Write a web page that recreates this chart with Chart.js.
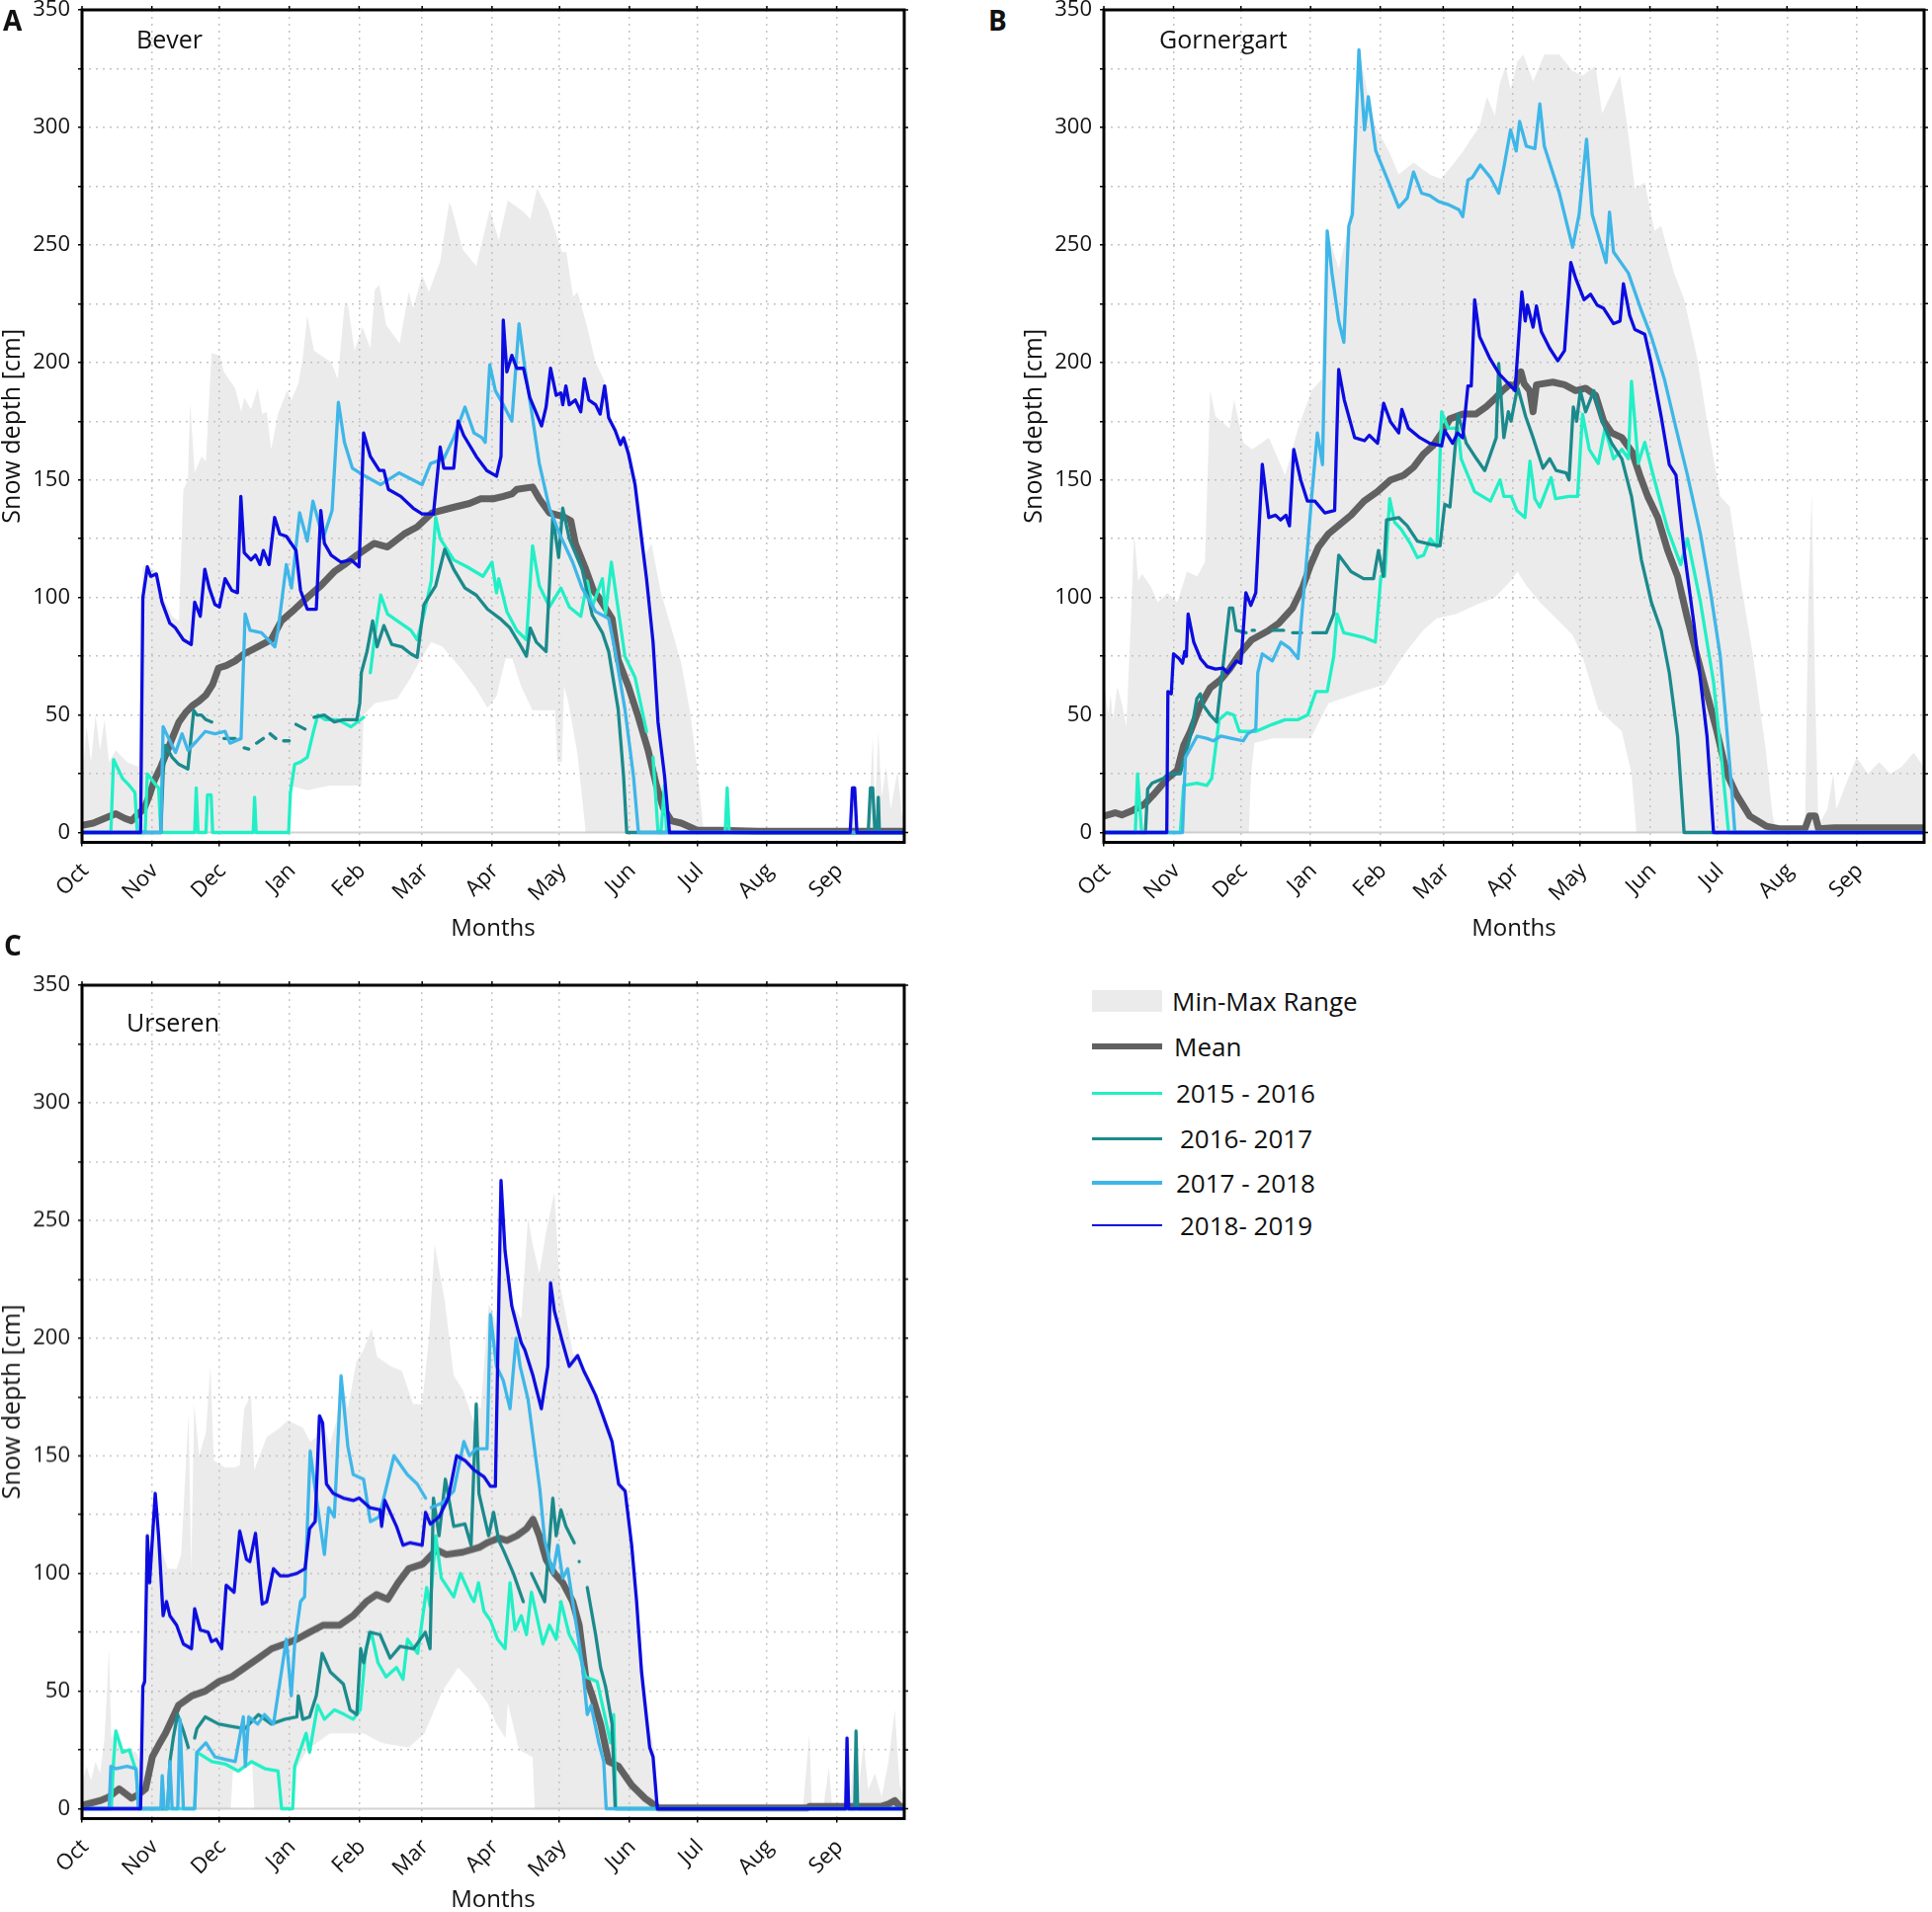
<!DOCTYPE html>
<html>
<head>
<meta charset="utf-8">
<script src="https://cdn.jsdelivr.net/npm/chart.js@4.4.1/dist/chart.umd.min.js"></script>
<style>
  body { margin: 0; width: 1955px; height: 1935px; position: relative; overflow: hidden; background: #fff; font-family: "Open Sans", sans-serif; color: #111; }
  .panel { position: absolute; width: 930px; height: 980.5px; }
  .letter { position: absolute; font-weight: bold; font-size: 28px; line-height: 1; }
  .station { position: absolute; font-size: 25px; line-height: 1; }
  .row { position: absolute; left: 1105px; height: 30px; display: flex; align-items: center; font-size: 26px; white-space: pre; }
  .swatch { width: 71px; }
</style>
</head>
<body>
<div class="panel" style="left:0;top:-20.5px"><canvas id="bever"></canvas></div>
<div class="panel" style="left:1034px;top:-20.5px;width:921px"><canvas id="gorner"></canvas></div>
<div class="panel" style="left:0;top:967px"><canvas id="urseren"></canvas></div>

<div class="letter" style="left:3px;top:6px">A</div>
<div class="letter" style="left:1000px;top:6px">B</div>
<div class="letter" style="left:4px;top:942px">C</div>
<div class="station" style="left:138px;top:27px">Bever</div>
<div class="station" style="left:1173px;top:27px">Gornergart</div>
<div class="station" style="left:128px;top:1022px">Urseren</div>

<div id="legend"></div>

<script>
"use strict";

// x axis: days since 1 October
const monthNames = ["Oct", "Nov", "Dec", "Jan", "Feb", "Mar", "Apr", "May", "Jun", "Jul", "Aug", "Sep"];
const monthStarts = [0, 31, 61, 92, 123, 151, 182, 212, 243, 273, 304, 335];
const yTicks = [0, 25, 50, 75, 100, 125, 150, 175, 200, 225, 250, 275, 300, 325, 350];
const seriesLabels = ["Min-Max Range", "Mean", "2015 - 2016", "2016- 2017", "2017 - 2018", "2018- 2019"];

// ---- Bever [day, cm] ----
const beverMax = [[0,20],[2,45],[4,30],[6,50],[8,35],[10,48],[12,30],[15,35],[20,30],[25,28],[27,113],[29,114],[33,111],[36,100],[40,92],[43,90],[45,146],[47,150],[48,183],[50,153],[53,160],[55,158],[57.5,204],[61,203],[63,196],[68,189],[70.7,179],[72,185],[75,180],[78,189],[80,178],[82,179],[84,163],[87,178],[91,188],[93,184],[96,191],[98,202],[100,220],[103,205],[110.6,200],[113.5,193],[116.5,224],[118,225],[121,205],[124.5,215],[128,206],[130,231],[132,233],[135,216],[141,208],[145,230],[147,223],[151,237],[154,230],[159,243],[163,268],[164,266],[169,248],[175,241],[181,265],[185,252],[189,269],[196,264],[199,261],[202,274],[207,265],[213,247],[215,247],[218,228],[220,230],[224,216],[228,200],[232,192],[234,178],[238,168],[240.4,168],[242.6,165],[245,155],[248.4,135],[250,118],[252.8,123],[257,102],[261.6,87],[266,72],[270,51],[273,28],[276,0],[285,0],[286,19],[287,0],[341,0],[342,20],[343,20],[344,0],[349,0],[350,20],[351,41],[352,10],[353.5,43],[355,15],[357,28],[359,10],[362,26],[364,8],[365,5]];
const beverMin = [[0,0],[91,0],[92,20],[100,18],[110,20],[124,20],[125,50],[130,55],[140,57],[146,66],[150,73],[155,81],[160,79],[168,70],[175,61],[180,53],[184,58],[188,74],[191,74],[195,62],[200,52],[210,52],[211,30],[213,30],[214,62],[216,55],[220,33],[223.6,0],[365,0]];
const beverMean = [[0,3],[5,4],[10,6],[15,8],[19,6],[22,5],[25,8],[27.5,10],[30,16],[32,22],[35,28],[38,35],[40,40],[43,47],[46,51],[49,54],[52,56],[55,58.5],[58,63],[60.6,70],[64,71],[68,73],[72,76],[78,79],[84,82],[88.5,90],[94.4,95],[100,100],[106,105],[112,111],[116.5,114],[122,118],[129.7,123],[135.6,121.5],[143,127],[148.8,130],[155.4,136],[163.5,138],[172,140],[177,142],[182.6,142],[187,143],[190.8,144],[193,146],[200,147],[203,142],[207.5,136],[213.4,134.5],[217,132.6],[219,123],[223.6,112],[227,103],[229.4,100],[235.3,91],[238,73.5],[242.6,62],[247,49],[251.3,35],[255,20],[258,10.5],[261.6,5],[266,4],[273,1],[283,1],[300,0.5],[365,0.5]];
const bever1516 = [[0,0],[12.8,0],[14,31],[18,23],[21,20],[23.5,17],[24.5,0],[28,0],[29,25],[33,20],[34,19],[35,0],[50,0],[50.7,19],[51.5,0],[55,0],[55.7,16],[57.3,16],[58,0],[76,0],[76.6,15],[77.3,0],[91.7,0],[92.5,17],[94.4,29],[97,30],[100,32],[103,44],[104.7,50],[108,48],[113.5,48],[119.4,45],[125,49],[126,null],[128,68],[130,84],[132.6,101],[135.6,93],[140,90],[146,86],[148.8,82],[151.8,93],[155,107],[157,134],[159,125],[165,116],[171,113],[178,109],[182,115],[184,102],[185,108],[188.6,94],[193,86],[197.3,82],[200,122],[203,105],[207.5,96],[212.6,104],[216.3,96],[221.4,92],[224.3,107],[226.5,96],[231,108],[232.4,93],[235,115],[241,75],[245.5,66],[250.6,43],[251.5,null],[253.5,32],[255.7,0],[257,0],[258.6,20],[259.5,0],[285.5,0],[286.4,19],[287.3,0],[365,0]];
const bever1617 = [[0,0],[35,0],[36,25],[37,37],[40,32],[43,29],[47,27],[49.6,52],[51,50],[53,50],[55,48],[57.6,47],[58,null],[63,40],[66,40],[68,40],[70,null],[72,36],[74,35.5],[75,null],[77.5,38],[80.5,40],[81,null],[83.5,42],[86,40],[87,null],[89.5,39],[92,39],[93,null],[95,46],[99,44],[100,null],[103,49],[107.5,50],[112,47],[116,48],[122,48],[123.3,55],[124,68],[126.5,77],[129,90],[131,79],[134,88],[137.5,80],[142,79],[146,76],[148.8,74.5],[151.8,97],[157,105],[161,120.5],[165,112],[170,104],[175,101],[180,95],[185.6,91],[190,87],[195,79],[197.3,75],[199,87],[201.7,81],[206,77],[209,134.5],[211.6,117],[213.4,138],[216.3,125],[222,112],[226.5,92.5],[231,85],[233.8,77],[238,52.5],[240.4,24],[241.8,0],[349,0],[350,19],[351,19],[352,0],[353,0],[353.5,15],[354,0],[365,0]];
const bever1718 = [[0,0],[35,0],[36,45],[38.5,40],[41.5,34],[44.4,42],[47,35],[51,39],[54.7,43],[59,42],[63.5,43],[65.7,38],[70.6,40],[72.4,93],[74.6,86],[79.7,85],[85.6,79],[87,86],[90.7,114],[93,104],[96.6,136],[100,124],[102.5,141],[107,125],[111,137],[113.8,183],[116.5,166],[120,155],[125,152],[132.6,148],[140.7,153],[151,148],[154.7,157],[160.6,159],[165,168],[170,181],[174,170],[177.5,168],[179,166],[181,199],[183.5,188],[187,182],[190.8,175],[194,216.5],[196.6,197.5],[200,176.5],[203,157],[207.5,138],[212,127],[217.8,115],[222,104],[228,94],[233.8,91],[236.7,77],[241,52.5],[244.8,24],[247,0],[365,0]];
const bever1819 = [[0,0],[26,0],[27,100],[29,113],[30.5,109],[33,110],[35.5,98],[39,89],[41.5,87],[45,82],[48.5,80],[50,98],[52.5,92],[54.5,112],[56.5,104],[59,97],[61,96],[63.5,108],[66.5,103],[69,102],[70.5,143],[72,119],[75,116],[77,118],[79,114],[80.5,120],[83,114],[85.5,134],[87.8,127],[90.7,126],[95,120],[97,103],[100,95],[104,95],[106,137],[107.6,123],[110.6,118],[115,115],[119.4,116],[123,113],[125,170],[128,160],[132,154],[134,154],[136,146],[141.5,143],[147,138],[151,135.5],[156,135.5],[159,164],[160.6,155],[165,155],[167,175],[169.4,169],[175,160],[179.7,154],[184,151.6],[186,160],[187,218],[188.6,196],[190.8,203],[193,197.5],[196,197.5],[198.8,185],[201,180],[204,173],[206,181],[208,197.5],[210.5,186],[212.6,187],[213.4,182],[214.8,190],[216.3,182],[219,184],[221.4,179],[223,193],[225,184],[228,182],[230,178],[232,190],[233.8,176.5],[236.7,171],[239,165],[240.4,168],[242.6,161],[245.5,148],[248.4,125],[250.6,108],[253.5,81],[255.7,47],[258.6,24],[260.8,0],[341,0],[342,19],[343,19],[344,0],[365,0]];

// ---- Gornergart [day, cm] ----
const gornerMax = [[0,64],[2,50],[3,59],[4,48],[6,62],[8,55],[10,45],[12,90],[13.5,127],[15.3,107],[17,110],[21,104.5],[24,98],[28.3,102],[32.7,98],[37,111],[41.5,109],[45,115],[47.3,188],[49.7,177],[55.9,172],[58,184],[62,166],[66,163],[73.4,168],[80.7,152],[86.4,172],[92.5,188],[97,193],[99.4,256],[104.5,240],[109,258],[113.5,333],[117.7,313],[121,300],[126.8,290],[131.2,280],[137.8,285],[145,280],[150,278],[156,285],[160,290],[163,294.5],[167,300],[170.5,313],[174,305],[176,318],[178.8,326],[181,316],[184,328],[186.7,331],[191,319.5],[196,331],[202.7,331],[208.6,324],[213,322],[218.8,326],[221.7,306],[229.7,322],[233,300],[236.3,274],[240.7,276.5],[245,256],[248,258],[253.8,238],[258.2,227],[264,202],[268.4,175],[274.3,143],[278.6,138.5],[283,109],[288.9,75],[294.7,34],[297.6,7],[299,1.6],[312,1.6],[313.5,100],[315,145],[316.5,60],[318,3],[322,10],[324.6,25],[326,10],[330,20],[335,32],[340,25],[345,30],[350,25],[355,28],[360.4,34],[365,27.6]];
const gornerMin = [[0,0],[64.5,0],[65.5,25],[67,38],[75,40],[92,40],[100,55],[115,60],[125,63],[133,75],[142,86],[148,91],[157,93],[166,97],[174,100],[181,107],[184,111],[188,105],[194,98],[201.3,91],[208.6,84],[213,75],[220,52.5],[230.5,43],[234.8,25],[237,0],[365,0]];
const gornerMean = [[0,7],[5,8.4],[8,7.5],[13,9.5],[18,12],[22,16],[28.3,23],[32.7,26.5],[35.5,37],[38.5,43],[42.9,54],[47.3,61.5],[51.9,65],[55.9,69.5],[60.4,76],[65.8,82],[73.4,86],[77.8,89],[84,95.5],[88.5,104.5],[91.9,113.6],[95.5,121.5],[99.9,127],[104.3,130.5],[110,135],[115.8,141],[121.7,145],[127.6,150],[133.4,152],[137.8,155.4],[142.2,161],[146.4,164.5],[150.3,170],[154,176],[159.7,178],[165.5,178],[170,181],[174.4,185],[177.4,188],[180.5,190.5],[183,190],[185.6,196],[187,191],[189.5,188],[191,179],[192.5,190.5],[199.8,191.6],[205,190.5],[210,188],[214.4,189],[218.8,186],[222.4,175],[226,170],[230.5,168],[235,162],[238.5,152],[242,143],[246.5,134],[250.9,120],[255.3,109],[259.7,91],[264,75],[268.4,59],[272.8,43],[277.2,25],[281.6,16],[287.4,7],[294.7,2.7],[300.5,1.6],[312,1.6],[314,7],[316.6,7],[318,1.6],[325,2],[365,2]];
const gorner1516 = [[0,0],[14,0],[15,25],[16.8,0],[34,0],[35.5,20],[41.4,21],[45.8,20],[48,23],[51.3,48],[54.9,51],[57.8,50],[60.3,43],[67.6,43],[75,46],[80.7,48],[86.4,48],[90.7,50],[94.4,60],[99.4,60],[102.3,75],[103.8,93],[106.7,85],[111,84],[115.6,83],[120.8,81],[123.3,109],[125,109],[127.2,142],[129.4,132],[132.3,129],[136.6,122.6],[139.5,117],[142.3,118],[145.3,125],[148.2,121.5],[150.3,179],[153.2,172],[157.6,172],[159,159],[165,145],[172,141],[176.3,150],[178,143],[181.3,143],[183.8,137],[187.4,134],[189.6,158],[191.8,142],[194,138.5],[199,151],[201,142],[207,143],[210.8,143],[213,178],[216,163],[220,157],[223,172],[226.8,159],[230.5,163],[233.4,159],[234.8,192],[237.8,157],[240.7,166],[245,150],[250.9,129],[256.7,114],[259.7,125],[265.5,98],[271.3,64],[275,30],[278,0],[365,0]];
const gorner1617 = [[0,0],[18.5,0],[19.5,18.5],[21.5,21],[26.5,23],[28.5,25],[34,25],[38.5,41],[41.4,57],[42.9,59],[44.3,54],[47.3,50],[50.2,47],[55.9,95.5],[57.3,95.5],[58.9,86],[63.3,85],[64,null],[66,86],[67,86],[68,null],[75,86],[80,86],[81,null],[84,85],[88,85],[89,null],[93,85],[99,85],[102.3,93],[104.5,118],[110,111],[115.6,108],[120,108],[122.2,120],[124.4,109],[125.8,133],[131.2,134],[135,130.5],[139.5,124],[145.3,122.6],[149.6,122],[151.7,139.6],[154,138.5],[157.6,178],[161.3,165.6],[165.8,159],[169.5,154],[174.6,168],[175.7,199.5],[178,168],[180,179],[181.2,175],[183.8,188],[184.3,189],[187.7,177],[191,168],[195.4,155],[198.4,159],[201.3,154],[205.7,153],[207,150],[208.9,181],[210.4,175],[212,188],[214.4,179],[218,188],[221.7,175],[226,165.6],[230.5,159],[234.8,143],[239.2,116],[243.6,98],[248,86],[251.6,68],[255.3,41],[258.2,0],[365,0]];
const gorner1718 = [[0,0],[35,0],[36.3,32],[41.5,41],[46,40],[48.7,39],[52,41],[57,40],[62,39],[64,42],[67.6,44],[68.5,68],[70.5,76],[75,73],[78.8,81],[82.6,78.5],[86.4,74],[90,113.6],[92.5,143],[95,170],[97.3,156.5],[99.4,256],[101.5,238],[104.5,217.6],[106.8,208.6],[109,258],[110.6,263],[113.5,333],[116,299],[117.7,313],[121,290],[126.8,276.5],[131.2,266],[135,270],[137.8,281],[141.4,272],[145,271],[148.9,268.5],[153.7,267],[158,265],[159.7,262],[162,277.6],[164,278.7],[167.5,284],[172,278.7],[175.7,272],[178,283],[181,299],[183.5,290],[185,302.5],[188,292],[191.8,291],[194,310],[196,292],[202.7,272],[208.6,249],[211.5,263],[214.8,295],[217.3,263],[223.5,242.5],[225,264],[226.8,247],[233.4,238],[239.2,222],[243.6,211],[249.4,193],[254.6,172],[259.7,152],[265.5,127],[270,102],[274.3,75],[277,46],[279.4,18.5],[280.8,0],[365,0]];
const gorner1819 = [[0,0],[28,0],[28.5,60],[30,59],[31,76],[33.5,74],[35,72],[36,77],[36.7,75],[37.5,93],[40,81],[43,74],[46,70.6],[49.7,69.5],[53,70],[55,68],[59,73],[61,72],[63.2,102],[65.4,96.6],[67.6,102],[70.5,156.6],[73.4,134],[76.4,135],[78.6,133],[81,135],[82.6,130.5],[84.5,163],[87.6,150],[90.6,141],[93.9,141],[98.3,136],[102.7,137],[104.5,197],[107,184],[111.6,168],[116,166.7],[118.1,169],[121.8,165.6],[124.5,182.6],[127.6,174.7],[131.2,170],[132.6,180],[135.5,172],[140.6,168],[145,165.6],[150.3,164.5],[151.7,171],[155.2,165.6],[157.4,170],[159.7,168],[162,190],[163.5,190],[165,226.7],[167.2,211],[171.6,202],[176,195],[180.5,190.5],[183,188],[186,230],[187.5,217.6],[188.5,224.4],[191,215],[192.5,224],[194.7,213],[198.4,206],[202,200.7],[205,205],[207.8,242.5],[210,235.7],[213.7,226.7],[216.6,229],[219.5,224.4],[222.4,223],[226.8,216.5],[229.7,217.6],[231.2,233.5],[234,220],[236.3,214],[240.7,212],[243.6,199.5],[248,177],[251.6,156.6],[254.6,152],[258.2,120],[262.6,88.7],[268.4,41],[271.3,0],[365,0]];

// ---- Urseren [day, cm] ----
const urserenMax = [[0,10],[2,18],[4,12],[6,20],[8,15],[10,30],[12,68],[13,30],[15,33],[18,24],[21,25],[24,24],[26,20],[27,54],[29,116],[30,100],[32.5,134],[34,116],[36,108],[38,102],[42,102],[44,108],[47.3,168],[48.5,100],[49.8,172],[52,150],[55,160],[57,188],[58.5,148],[63.5,145],[68,145],[70,146],[72,170],[75,176],[76.5,144],[82,158],[88,162],[91.3,165],[98,162],[101.3,156],[104,158],[105.4,167],[106.8,164],[110,155],[113,165],[115,184],[118,170],[121.8,190],[125,195],[128.5,204],[131,192],[137,188],[142,186],[147,172],[151,172],[154,200],[156.5,240],[161,216],[165,184],[169,178],[174,164],[175,172],[177,170],[180.5,214],[182,212],[184,205],[186,267],[188,240],[190,212],[192.7,212],[195,208],[198,251],[200,240],[203,227.5],[206,245],[209.7,262],[212,223.5],[216.3,202],[218,193],[220,193],[222.9,186],[225,182],[228,176],[231.6,167],[235.3,157],[238.2,140],[241.1,136],[244,113],[246.2,90],[248.4,65],[252,35],[254,25],[256,0],[320,0],[322.9,32],[324,0],[329,0],[331.6,18],[333,0],[338,0],[339.6,30],[341,5],[343.6,33],[345,10],[347,28],[349,8],[352,15],[355,5],[358,20],[360.8,42],[363,10],[365,5]];
const urserenMin = [[0,0],[66,0],[67,16],[75.5,19],[76.5,0],[92,0],[94,15],[100,25],[110,32],[125,32],[133,28],[145,26],[152,32],[160,50],[167,60],[172,55],[176,50],[180,45],[184,36],[188,30],[189,45],[194,25],[200,22],[201,0],[365,0]];
const urserenMean = [[0,1.4],[8,3.4],[12,5],[16.5,8.4],[22,4.4],[25,6],[28.2,8.4],[31.2,22],[34,27],[37,32],[42.9,44],[48.8,48],[54.7,50],[60.7,54],[66.4,56],[72.3,60],[78.3,64],[84.2,68],[90,70],[95.3,72],[101,75],[107,78],[114.4,78],[120.4,82],[126.3,88],[130.7,91],[135.7,89],[140.3,96],[145,102],[151.3,104],[157.3,110],[161.7,108],[169,109],[176.3,111],[179.8,113],[185,115],[188.6,114],[193,116],[197.3,119],[200.2,123],[203,116],[206,106],[209.7,100],[213.4,96],[217.8,88],[220.7,78],[223.6,56],[226.5,48],[230.2,36],[233.8,20],[238.2,18],[244,10],[249.9,4.4],[254.3,1.4],[256,0.3],[322,0.3],[323,1],[355,1],[358,2],[360.8,3.4],[363,1],[365,1]];
const urseren1516 = [[0,0],[13,0],[14,20],[15,33],[18,24],[21,25],[24,16],[25.5,0],[50,0],[51,24],[57.6,20],[63.5,19],[69.4,16],[75.3,20],[81.2,17],[87,16],[88.6,0],[93.5,0],[94.4,18],[98,28],[99.5,32],[101,24],[104.6,44],[107.6,38],[112,42],[116.5,40],[120.4,38],[123.5,42],[126,68],[128.4,75],[131.4,62],[135,56],[139.6,60],[142.5,55],[144.5,72],[149,66],[153,94],[154.5,86],[157,116],[159.5,98],[165,90],[168,100],[172.7,90],[174,88],[176,96],[178.4,84],[181.3,80],[184.5,72],[187.8,68],[190,96],[192.2,76],[195,82],[197.3,74],[199.5,92],[204.6,70],[207.5,78],[210.5,72],[212.6,88],[216.3,74],[220.7,66],[223.6,56],[228.7,54],[232.4,38],[234.6,28],[236,40],[237,0],[365,0]];
const urseren1617 = [[0,0],[38,0],[39,20],[40.5,30],[42.4,40],[45,33],[47.2,26],[47.8,null],[50,30],[51,34],[54.7,39],[60.6,36],[66.4,35],[72.3,34],[78.3,40],[84,36],[90,38],[95.4,39],[96,48],[98,38],[101,39],[104,48],[106.6,66],[110.3,58],[116,53],[119,42],[122,40],[123.7,68],[125,62],[127.7,75],[132.3,74],[136.8,64],[141.2,69],[147.2,68],[152.4,75],[154.5,68],[156,132],[158.5,116],[161.3,140],[165,120],[170,121],[172.7,112],[175,172],[176.2,134],[180.5,116],[182.7,126],[185,114],[187,110],[191.5,100],[195.9,88],[196.5,null],[199.5,100],[205.4,88],[209,132],[210.5,116],[212.6,127],[214.8,120],[218.5,113],[219.5,null],[220.7,105],[221.5,null],[224.3,94],[228,74],[230.2,60],[232.4,52],[235.3,36],[236.7,0],[343,0],[343.6,33],[344.3,0],[365,0]];
const urseren1718 = [[0,0],[12,0],[12.8,18],[15,17],[20,18],[24,17],[25,0],[35,0],[35.6,14],[36.5,0],[38,0],[39,20],[40,0],[42.5,0],[43.5,38],[45,0],[50,0],[51,24],[55,28],[59,22],[63.5,21],[68,20],[71.6,39],[72.5,18],[74,39],[78,36],[81,40],[85,36],[90.7,72],[92.9,48],[94.4,70],[97,88],[98.8,90],[101.3,152],[103.2,138],[107.6,108],[109.5,128],[112,124],[115,184],[118,154],[120.4,142],[125,140],[128,122],[131.9,124],[138.5,150],[144.4,142],[148.8,138],[152.5,132],[153.5,null],[155,128],[160,130],[165,135],[169.5,156],[172,150],[175,153],[179.8,153],[181.3,210],[184,188],[187,182],[190,170],[192.7,200],[194.5,188],[198,174],[200.2,158],[203.2,136],[205.4,114],[209,100],[211.2,112],[213.4,98],[215.6,102],[222,62],[224.3,40],[226,44],[229.4,28],[231.6,20],[232.7,0],[365,0]];
const urseren1819 = [[0,0],[26,0],[27,52],[27.8,54],[29,116],[30,96],[32.5,134],[34,116],[36,82],[37.5,88],[39,82],[42,78],[45,70],[48.6,68],[50,85],[52.5,76],[56,75],[57.5,71],[59.6,72],[62,68],[64,95],[67.5,92],[70,118],[73,106],[74.5,105],[77,117],[80,87],[82,88],[85,102],[88,99],[91.6,99],[95.4,100],[99,102],[101,119],[103.5,122],[105.4,167],[106.8,164],[108.5,138],[111.5,134],[116,132],[120.4,131],[123,132],[127.7,128],[132.3,127],[133,120],[134.4,131],[139.6,120],[142.5,112],[145.5,113],[151,112],[152.5,126],[154.6,121],[158.5,124],[162.6,132],[166.3,150],[170,148],[174,144],[178.5,141],[181.3,137],[183.5,137],[186,267],[187.8,237],[190.8,213.5],[195,198],[196.6,195],[200.2,184],[203.9,170],[206.8,188],[208,223.5],[209.7,211.5],[213.4,198],[216.3,188],[220,192.6],[222.9,185.7],[225,181.7],[228,175.7],[231.6,166],[235.3,156],[238.2,138],[241.1,135],[244,112],[246.2,88],[248.4,58],[252,26],[253.5,22],[255.4,0],[339,0],[339.6,30],[340.3,0],[365,0]];

const FONT = "'Open Sans', sans-serif";
const C_RANGE = "rgba(190,190,190,0.3)";
const C_MEAN = "#616161";
const C_1516 = "#22efc6";
const C_1617 = "#1b8a8c";
const C_1718 = "#3fb6e8";
const C_1819 = "#0c0ce0";
const C_GRID = "#c4c4c4";

Chart.defaults.font.family = FONT;
Chart.defaults.color = "#111";

const pts = arr => arr.map(([x, y]) => ({x: x, y: y}));

const lineSet = (arr, color, width) => ({
    data: pts(arr),
    borderColor: color,
    borderWidth: width,
    pointRadius: 0,
    fill: false,
    borderJoinStyle: "round",
    borderCapStyle: "round"
});

// solid zero line under the data, black frame with outer tick marks on top
const framePlugin = {
    id: "frame",
    beforeDatasetsDraw (chart) {
        const {ctx, chartArea: a, scales: {y}} = chart;
        const y0 = y.getPixelForValue(0);
        ctx.save();
        ctx.strokeStyle = "#d2d2d2";
        ctx.lineWidth = 2;
        ctx.beginPath();
        ctx.moveTo(a.left, y0);
        ctx.lineTo(a.right, y0);
        ctx.stroke();
        ctx.restore();
    },
    afterDraw (chart) {
        const {ctx, chartArea: a, scales: {x, y}} = chart;
        ctx.save();
        ctx.strokeStyle = "#000";
        ctx.lineWidth = 1.5;
        ctx.beginPath();
        monthStarts.forEach(d => {
            const px = x.getPixelForValue(d);
            ctx.moveTo(px, a.top);
            ctx.lineTo(px, a.top - 4);
        });
        yTicks.forEach(v => {
            const py = y.getPixelForValue(v);
            ctx.moveTo(a.right, py);
            ctx.lineTo(a.right + 4, py);
        });
        ctx.stroke();
        ctx.lineWidth = 3;
        ctx.strokeRect(a.left, a.top, a.right - a.left, a.bottom - a.top);
        ctx.restore();
    }
};

function drawPanel (id, max, min, mean, s1516, s1617, s1718, s1819, padRight, titlePad) {
    return new Chart(document.getElementById(id), {
        type: "line",
        data: {
            datasets: [
                lineSet(s1819, C_1819, 3.3),
                lineSet(s1718, C_1718, 3.3),
                lineSet(s1617, C_1617, 3.3),
                lineSet(s1516, C_1516, 3.3),
                lineSet(mean, C_MEAN, 7),
                {data: pts(max), borderColor: "rgba(0,0,0,0)", borderWidth: 0, pointRadius: 0, backgroundColor: C_RANGE, fill: "+1"},
                {data: pts(min), borderColor: "rgba(0,0,0,0)", borderWidth: 0, pointRadius: 0, fill: false}
            ]
        },
        options: {
            responsive: true,
            maintainAspectRatio: false,
            animation: false,
            events: [],
            layout: {padding: {top: 30, right: padRight, left: 0, bottom: 0}},
            plugins: {legend: {display: false}, tooltip: {enabled: false}},
            scales: {
                x: {
                    type: "linear",
                    min: 0,
                    max: 365,
                    afterBuildTicks: s => { s.ticks = monthStarts.map(v => ({value: v})); },
                    afterFit: s => { s.height = 108; },
                    ticks: {
                        autoSkip: false,
                        minRotation: 45,
                        maxRotation: 45,
                        padding: 12,
                        labelOffset: 3,
                        color: "#111",
                        font: {size: 22},
                        callback: (v, i) => monthNames[i]
                    },
                    grid: {
                        color: c => (c.tick && c.tick.value > 0) ? C_GRID : "rgba(0,0,0,0)",
                        lineWidth: 1.5,
                        tickColor: "#000",
                        tickLength: 4,
                        tickWidth: 1.5
                    },
                    border: {display: false, dash: [2, 5]},
                    title: {display: true, text: "Months", color: "#111", font: {size: 24}, padding: {top: 0, bottom: titlePad}}
                },
                y: {
                    min: -4.2,
                    max: 350,
                    afterBuildTicks: s => { s.ticks = yTicks.map(v => ({value: v})); },
                    afterFit: s => { s.width = 83; },
                    ticks: {
                        autoSkip: false,
                        padding: 8,
                        color: "#111",
                        font: {size: 22},
                        callback: v => (v % 50 === 0 ? String(v) : "")
                    },
                    grid: {
                        color: c => (c.tick && c.tick.value > 0 && c.tick.value < 350) ? C_GRID : "rgba(0,0,0,0)",
                        lineWidth: 1.5,
                        tickColor: "#000",
                        tickLength: 4,
                        tickWidth: 1.5
                    },
                    border: {display: false, dash: [2, 5]},
                    title: {display: true, text: "Snow depth [cm]", color: "#111", font: {size: 25, lineHeight: 1}, padding: {top: 0, bottom: 0}}
                }
            }
        },
        plugins: [framePlugin]
    });
}

drawPanel("bever", beverMax, beverMin, beverMean, bever1516, bever1617, bever1718, bever1819, 15, 6);
drawPanel("gorner", gornerMax, gornerMin, gornerMean, gorner1516, gorner1617, gorner1718, gorner1819, 8, 6);
drawPanel("urseren", urserenMax, urserenMin, urserenMean, urseren1516, urseren1617, urseren1718, urseren1819, 15, 11);

// legend, bottom right
const legendRows = [
    {top: 998, swatch: "height:22px;background:#ebebeb", gap: 10},
    {top: 1044, swatch: "height:6px;background:" + C_MEAN, gap: 12},
    {top: 1091, swatch: "height:3px;background:" + C_1516, gap: 14},
    {top: 1137, swatch: "height:3px;background:" + C_1617, gap: 18},
    {top: 1182, swatch: "height:3.5px;background:" + C_1718, gap: 14},
    {top: 1225, swatch: "height:2px;background:" + C_1819, gap: 18}
];
const legend = document.getElementById("legend");
legendRows.forEach((r, i) => {
    const row = document.createElement("div");
    row.className = "row";
    row.style.top = r.top + "px";
    const sw = document.createElement("div");
    sw.className = "swatch";
    sw.style.cssText = r.swatch + ";margin-right:" + r.gap + "px";
    const label = document.createElement("span");
    label.textContent = seriesLabels[i];
    row.appendChild(sw);
    row.appendChild(label);
    legend.appendChild(row);
});
</script>
</body>
</html>
